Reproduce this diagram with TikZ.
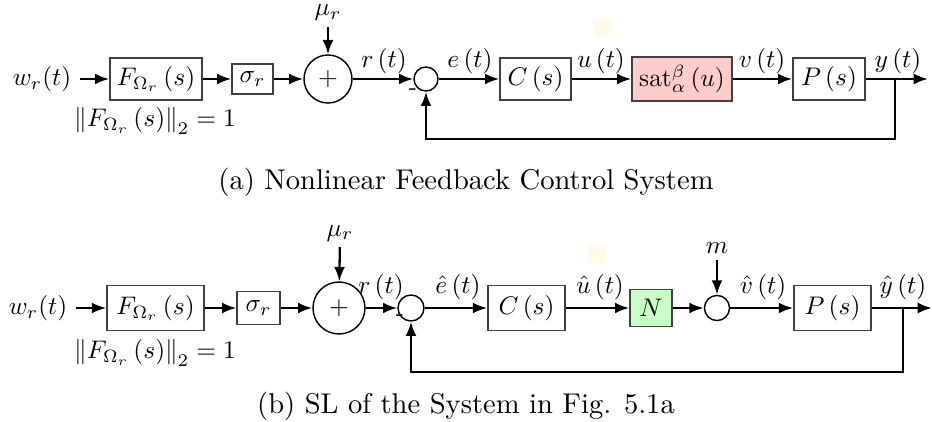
\documentclass[tikz,border=0pt]{standalone}
\usepackage{graphicx}
\usetikzlibrary{arrows.meta}
\definecolor{pale}{RGB}{255,251,232}
\newcommand{\dmth}[1]{\scalebox{0.89}{$#1$}}
\begin{document}
\begin{tikzpicture}[x=0.35pt,y=-0.35pt,
  blk/.style={draw=black!75, line width=0.5pt, inner sep=0pt},
  sumc/.style={draw, circle, inner sep=0pt, line width=0.5pt},
  sig/.style={-{Latex[length=5pt,width=3.8pt]}, line width=0.8pt},
  lbl/.style={inner sep=2pt},
  minus/.style={inner sep=0pt, font=\footnotesize}]
\useasboundingbox (0,0) rectangle (932,422);
% ---------- (a) ----------
\fill[pale] (594,20) rectangle (611,37);
\node[inner sep=3pt] (w1) at (42,79) {\dmth{w_r(t)}};
\node[blk, minimum width=32.2pt, minimum height=14.7pt] (F1) at (156,79) {\dmth{F_{\Omega_r}\left(s\right)}};
\node[lbl] (n1) at (155,121) {\dmth{\left\|F_{\Omega_r}\left(s\right)\right\|_2=1}};
\node[blk, minimum width=14.35pt, minimum height=10.5pt] (s1) at (252.5,79) {\dmth{\sigma_r}};
\node[sumc, minimum size=16.8pt] (S1) at (328,79) {\dmth{+}};
\node[lbl] (mu1) at (328,13) {\dmth{\mu_r}};
\node[sumc, minimum size=8.4pt] (c1) at (426,79) {};
\node[minus] (m1) at (413,92) {-};
\node[blk, minimum width=24.85pt, minimum height=14.7pt] (C1) at (535.5,79) {\dmth{C\left(s\right)}};
\node[blk, fill=red!20, minimum width=35pt, minimum height=15.4pt] (sat) at (682,79) {\dmth{\mathrm{sat}_\alpha^\beta\left(u\right)}};
\node[blk, minimum width=25.2pt, minimum height=14.7pt] (P1) at (829,79) {\dmth{P\left(s\right)}};
\coordinate (b1) at (895,79);
\coordinate (o1) at (928,79);
\coordinate (fb1) at (895,139);
\coordinate (fa1) at (426,139);
\node[lbl] (lr1) at (384,61) {\dmth{r\left(t\right)}};
\node[lbl] (le1) at (470,61) {\dmth{e\left(t\right)}};
\node[lbl] (lu1) at (601,61) {\dmth{u\left(t\right)}};
\node[lbl] (lv1) at (762,61) {\dmth{v\left(t\right)}};
\node[lbl] (ly1) at (898,61) {\dmth{y\left(t\right)}};
\draw[sig] (w1) -- (F1);
\draw[sig] (F1) -- (s1);
\draw[sig] (s1) -- (S1);
\draw[sig] (mu1) -- (S1);
\draw[sig] (S1) -- (c1);
\draw[sig] (c1) -- (C1);
\draw[sig] (C1) -- (sat);
\draw[sig] (sat) -- (P1);
\draw[sig] (P1) -- (o1);
\draw[sig] (b1) -- (fb1) -- (fa1) -- (c1);
\node (capa) at (466,182) {(a) Nonlinear Feedback Control System};
% ---------- (b) ----------
\fill[pale] (588,245) rectangle (606,263);
\node[inner sep=3pt] (w2) at (38,308) {\dmth{w_r(t)}};
\node[blk, minimum width=34pt, minimum height=15.75pt] (F2) at (155.5,308) {\dmth{F_{\Omega_r}\left(s\right)}};
\node[lbl] (n2) at (155,353) {\dmth{\left\|F_{\Omega_r}\left(s\right)\right\|_2=1}};
\node[blk, minimum width=15pt, minimum height=11.55pt] (s2) at (258.5,308) {\dmth{\sigma_r}};
\node[sumc, minimum size=18.2pt] (S2) at (339,308) {\dmth{+}};
\node[lbl] (mu2) at (340,233) {\dmth{\mu_r}};
\node[sumc, minimum size=9.1pt] (c2) at (411,308) {};
\node[minus] (m2) at (400,318) {-};
\node[blk, minimum width=27pt, minimum height=15.75pt] (C2) at (526.5,308) {\dmth{C\left(s\right)}};
\node[blk, fill=green!22, minimum width=14.7pt, minimum height=13pt] (N) at (651,308) {\dmth{N}};
\node[sumc, minimum size=8.8pt] (c3) at (717,308) {};
\node[lbl] (mm) at (717,248) {\dmth{m}};
\node[blk, minimum width=27pt, minimum height=15.75pt] (P2) at (832.5,308) {\dmth{P\left(s\right)}};
\coordinate (b2) at (903,308);
\coordinate (o2) at (932,308);
\coordinate (fb2) at (903,372);
\coordinate (fa2) at (411,372);
\node[lbl] (lr2) at (381,287) {\dmth{r\left(t\right)}};
\node[lbl] (le2) at (458,287) {\dmth{\hat{e}\left(t\right)}};
\node[lbl] (lu2) at (600,287) {\dmth{\hat{u}\left(t\right)}};
\node[lbl] (lv2) at (763,287) {\dmth{\hat{v}\left(t\right)}};
\node[lbl] (ly2) at (903,287) {\dmth{\hat{y}\left(t\right)}};
\draw[sig] (w2) -- (F2);
\draw[sig] (F2) -- (s2);
\draw[sig] (s2) -- (S2);
\draw[sig] (mu2) -- (S2);
\draw[sig] (S2) -- (c2);
\draw[sig] (c2) -- (C2);
\draw[sig] (C2) -- (N);
\draw[sig] (N) -- (c3);
\draw[sig] (mm) -- (c3);
\draw[sig] (c3) -- (P2);
\draw[sig] (P2) -- (o2);
\draw[sig] (b2) -- (fb2) -- (fa2) -- (c2);
\node (capb) at (466,406) {(b) SL of the System in Fig. 5.1a};
\end{tikzpicture}
\end{document}
